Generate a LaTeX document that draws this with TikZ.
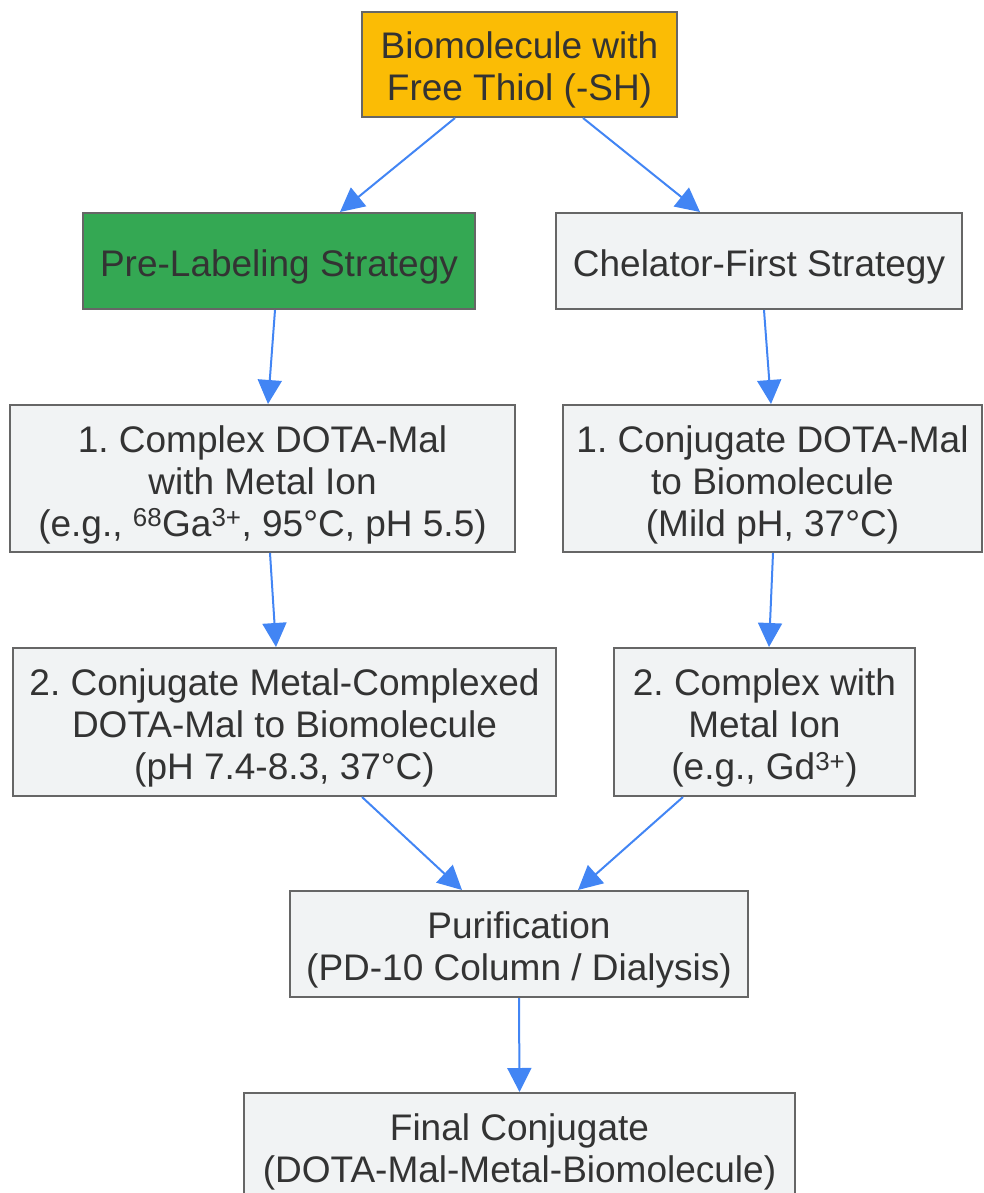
\documentclass[tikz,border=0pt]{standalone}
\usepackage{fontspec}
\setmainfont{Liberation Sans}
\usetikzlibrary{arrows.meta}
\frenchspacing
\definecolor{boxgray}{HTML}{F1F3F4}
\definecolor{boxline}{HTML}{666666}
\definecolor{txt}{HTML}{333333}
\definecolor{topfill}{HTML}{FBBC05}
\definecolor{greenfill}{HTML}{34A853}
\definecolor{arrowblue}{HTML}{4285F4}
\newcommand{\tstr}{\rule{0pt}{39pt}}
\newcommand{\bstr}{\rule[-8pt]{0pt}{8pt}}
\tikzset{
  box/.style={draw=boxline, line width=2pt, fill=boxgray, text=txt, inner sep=0pt,
    align=center, font=\fontsize{37}{42}\selectfont, rectangle},
  conn/.style={draw=arrowblue, line width=2pt, -{Triangle[length=24pt,width=24pt]}},
}
\begin{document}
\begin{tikzpicture}[x=1pt,y=1pt]
\useasboundingbox (0,0) rectangle (983,-1193);
\clip (0,0) rectangle (983,-1193);
\node[box, fill=topfill, minimum width=315pt, minimum height=105pt] (top) at (519.5,-64.5) {\tstr Biomolecule with\\Free Thiol (-SH)\bstr};
\node[box, fill=greenfill, minimum width=392pt, minimum height=96pt] (pre) at (279,-261) {\tstr Pre-Labeling Strategy\bstr};
\node[box, minimum width=406pt, minimum height=96pt] (chel) at (759,-261) {\tstr Chelator-First Strategy\bstr};
\node[box, minimum width=505pt, minimum height=147pt] (l1) at (262.5,-478.5) {\tstr 1. Complex DOTA-Mal\\with Metal Ion\\(e.g., \textsuperscript{68}Ga\textsuperscript{3+}, 95°C, pH 5.5)\bstr};
\node[box, minimum width=419pt, minimum height=147pt] (r1) at (772.5,-478.5) {\tstr 1. Conjugate DOTA-Mal\\to Biomolecule\\(Mild pH, 37°C)\bstr};
\node[box, minimum width=543pt, minimum height=148pt] (l2) at (284.5,-722) {\tstr 2. Conjugate Metal-Complexed\\DOTA-Mal to Biomolecule\\(pH 7.4-8.3, 37°C)\bstr};
\node[box, minimum width=301pt, minimum height=148pt] (r2) at (764.5,-722) {\tstr 2. Complex with\\Metal Ion\\(e.g., Gd\textsuperscript{3+})\bstr};
\node[box, minimum width=458pt, minimum height=106pt] (pur) at (519,-944) {\tstr Purification\\(PD-10 Column / Dialysis)\bstr};
\node[box, minimum width=551pt, minimum height=106pt] (fin) at (519.5,-1146) {\tstr Final Conjugate\\(DOTA-Mal-Metal-Biomolecule)\bstr};
\draw[conn] ([xshift=-64.5pt]top.south) -- ([xshift=61pt]pre.north);
\draw[conn] ([xshift=63.5pt]top.south) -- ([xshift=-59pt]chel.north);
\draw[conn] ([xshift=-4pt]pre.south) -- ([xshift=5.5pt]l1.north);
\draw[conn] ([xshift=5pt]chel.south) -- ([xshift=-1.5pt]r1.north);
\draw[conn] ([xshift=7.5pt]l1.south) -- ([xshift=-8.5pt]l2.north);
\draw[conn] ([xshift=0.5pt]r1.south) -- ([xshift=4.5pt]r2.north);
\draw[conn] ([xshift=77.5pt]l2.south) -- ([xshift=-57pt]pur.north);
\draw[conn] ([xshift=-81.5pt]r2.south) -- ([xshift=59pt]pur.north);
\draw[conn] (pur.south) -- (fin.north);
\end{tikzpicture}
\end{document}
